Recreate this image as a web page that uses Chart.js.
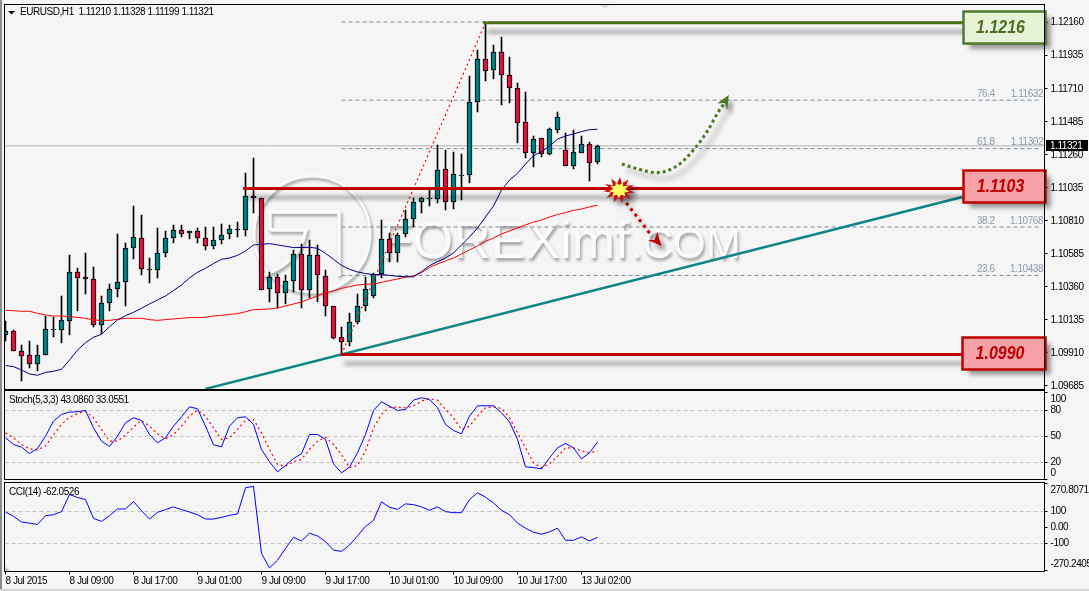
<!DOCTYPE html>
<html><head><meta charset="utf-8">
<style>
html,body{margin:0;padding:0;background:#f5f5f5;width:1089px;height:591px;overflow:hidden}
canvas{position:absolute;left:0;display:block}
#edgeL{position:absolute;left:0;top:0;width:2px;height:589px;background:#8c8c8c}
#edgeB{position:absolute;left:0;top:589px;width:1089px;height:2px;background:#d4d4d4}
</style>
<script src="https://cdn.jsdelivr.net/npm/chart.js@4/dist/chart.umd.js"></script>
</head><body>
<div id="edgeL"></div><div id="edgeB"></div>
<canvas id="main" width="1089" height="392" style="top:0"></canvas>
<canvas id="stoch" width="1089" height="92" style="top:390px"></canvas>
<canvas id="cciC" width="1089" height="109" style="top:482px"></canvas>
<script>
// ---------- data ----------
const open=[1.10030,1.10058,1.09921,1.09894,1.09833,1.09894,1.10064,1.10064,1.10130,1.10460,
1.10426,1.10412,1.10098,1.10248,1.10344,1.10391,1.10623,1.10691,1.10473,1.10473,
1.10589,1.10691,1.10746,1.10725,1.10739,1.10691,1.10637,1.10678,1.10718,1.10746,
1.10746,1.10977,1.10964,1.10344,1.10426,1.10316,1.10398,1.10582,1.10339,1.10575,
1.10432,1.10228,1.10017,1.09982,1.10119,1.10228,1.10296,1.10446,1.10687,1.10589,
1.10718,1.10820,1.10936,1.10957,1.10957,1.11161,1.10936,1.11116,1.11120,1.11620,
1.11911,1.11835,1.11958,1.11801,1.11713,1.11481,1.11270,1.11372,1.11263,1.11427,
1.11291,1.11182,1.11275,1.11332,1.11210];
const close=[1.10058,1.09921,1.09892,1.09833,1.09894,1.10071,1.10071,1.10132,1.10460,1.10419,
1.10412,1.10098,1.10248,1.10344,1.10391,1.10623,1.10698,1.10480,1.10480,1.10589,
1.10691,1.10746,1.10718,1.10739,1.10691,1.10637,1.10678,1.10712,1.10752,1.10752,
1.10977,1.10964,1.10339,1.10426,1.10316,1.10398,1.10582,1.10339,1.10575,1.10439,
1.10228,1.10014,1.09982,1.10119,1.10228,1.10344,1.10446,1.10684,1.10589,1.10712,
1.10820,1.10936,1.10964,1.10964,1.11154,1.10936,1.11127,1.11122,1.11620,1.11911,
1.11829,1.11958,1.11801,1.11713,1.11474,1.11270,1.11365,1.11263,1.11434,1.11515,
1.11182,1.11277,1.11332,1.11202,1.11321];
const high=[1.10128,1.10064,1.09962,1.09989,1.09962,1.10162,1.10157,1.10298,1.10575,1.10489,
1.10591,1.10493,1.10298,1.10378,1.10721,1.10657,1.10911,1.10850,1.10557,1.10759,
1.10739,1.10782,1.10782,1.10741,1.10759,1.10766,1.10771,1.10787,1.10780,1.10802,
1.11134,1.11236,1.10964,1.10460,1.10446,1.10439,1.10612,1.10653,1.10680,1.10643,
1.10473,1.10228,1.10089,1.10180,1.10312,1.10430,1.10453,1.10816,1.10725,1.10725,
1.10884,1.10964,1.10975,1.11020,1.11327,1.11293,1.11279,1.11265,1.11797,1.11974,
1.12160,1.12008,1.12063,1.11926,1.11747,1.11688,1.11386,1.11372,1.11440,1.11552,
1.11406,1.11427,1.11388,1.11345,1.11328];
const low=[1.09992,1.09921,1.09722,1.09810,1.09790,1.09894,1.10021,1.09980,1.10035,1.10198,
1.10314,1.10089,1.10042,1.10198,1.10289,1.10232,1.10553,1.10444,1.10389,1.10423,
1.10566,1.10662,1.10703,1.10684,1.10657,1.10614,1.10616,1.10653,1.10684,1.10700,
1.10709,1.10866,1.10339,1.10260,1.10214,1.10246,1.10323,1.10219,1.10287,1.10260,
1.10164,1.10008,1.09908,1.09960,1.10105,1.10198,1.10283,1.10419,1.10532,1.10532,
1.10698,1.10766,1.10861,1.10911,1.10934,1.10884,1.10891,1.10952,1.11070,1.11552,
1.11765,1.11779,1.11599,1.11615,1.11343,1.11241,1.11179,1.11247,1.11256,1.11411,
1.11182,1.11166,1.11270,1.11082,1.11199];
const maBlue=[1.09824,1.09817,1.09794,1.09767,1.09758,1.09778,1.09785,1.09799,1.09862,1.09930,
1.09980,1.10017,1.10037,1.10089,1.10135,1.10164,1.10187,1.10214,1.10244,1.10271,
1.10298,1.10335,1.10373,1.10421,1.10460,1.10487,1.10519,1.10548,1.10557,1.10575,
1.10605,1.10646,1.10650,1.10655,1.10646,1.10637,1.10628,1.10628,1.10630,1.10623,
1.10589,1.10548,1.10507,1.10480,1.10462,1.10451,1.10444,1.10444,1.10439,1.10432,
1.10430,1.10428,1.10464,1.10505,1.10532,1.10557,1.10591,1.10646,1.10700,1.10762,
1.10836,1.10911,1.11020,1.11088,1.11134,1.11197,1.11254,1.11281,1.11320,1.11366,
1.11388,1.11402,1.11418,1.11431,1.11434];
const maRed=[1.10201,1.10198,1.10194,1.10194,1.10180,1.10169,1.10162,1.10162,1.10157,1.10153,
1.10146,1.10135,1.10132,1.10132,1.10139,1.10146,1.10146,1.10146,1.10137,1.10132,
1.10137,1.10142,1.10146,1.10151,1.10151,1.10153,1.10162,1.10166,1.10173,1.10178,
1.10191,1.10205,1.10207,1.10210,1.10216,1.10230,1.10244,1.10257,1.10278,1.10298,
1.10321,1.10332,1.10350,1.10362,1.10373,1.10378,1.10380,1.10391,1.10403,1.10414,
1.10426,1.10435,1.10457,1.10493,1.10516,1.10537,1.10557,1.10584,1.10612,1.10639,
1.10670,1.10693,1.10721,1.10741,1.10762,1.10782,1.10802,1.10816,1.10836,1.10853,
1.10867,1.10881,1.10891,1.10905,1.10916];
const stochMain=[48.1,40.4,37.3,30,35.8,50,67.3,75,77.7,78.1,79.6,59.6,44.2,38.1,50,65.4,71.2,68.1,51.9,42.3,48.1,61.5,72.3,83.8,81.5,61.5,40,37.7,61.5,71.2,72.3,63.5,34.6,20.4,8.8,16.2,24.2,29.6,51.9,51.9,46.2,
18.1,7.7,14.2,30.8,51.9,79.6,89.6,84.6,79.6,80.8,91.5,94.2,92.3,82.7,63.5,56.5,52.7,73.1,85,85,85,76.9,66.5,46.2,14.6,13.8,12.3,25,36.5,41.5,36.5,23.8,30.8,43.09];
const stochSignal=[53.8,48.1,40.4,35.4,34.2,38.5,51.9,63.5,71.9,75.8,78.8,71.2,57.7,44.2,44.2,51.2,60.4,68.1,61.5,52.7,46.9,51.9,61.5,73.1,79.6,73.1,59.6,46.2,48.1,57.7,68.1,69.2,53.8,34.6,17.3,15.4,20.4,23.1,34.6,44.2,48.8,
40.4,28.8,13.5,16.2,32.7,59.6,75,83.5,83.5,82.7,84.6,90.4,93.1,91.5,80.8,71.2,57.7,61.5,73.1,82.7,83.8,81.9,71.2,53.8,36.5,19.2,13.5,18.1,26.9,36.5,36.5,32.7,30.8,33.06];
const cci=[95.8,68.4,32.6,26.3,17.9,72.6,78.9,97.9,205.3,186.3,173.7,55.8,36.8,72.6,114.7,114.7,161,104.2,51.6,93.7,110.5,127.4,110.5,95.8,78.9,51.6,51.6,62.1,74.7,83.2,247.4,255.8,-163.1,-253.7,-205.2,-131.6,-62.1,-85.3,-36.8,-53.7,-89.5,
-142.1,-150.5,-110.5,-53.7,5.3,43.2,158.9,125.2,112.6,146.3,142.1,127.4,106.3,127.4,97.9,91.6,91.6,173.7,215.8,188.4,152.6,106.3,78.9,26.3,-5.3,-30.5,-43.2,-28.4,-5.3,-81,-81,-60,-85.3,-62.05];

const priceTicks=[1.12160,1.11935,1.11710,1.11485,1.11260,1.11035,1.10810,1.10585,1.10360,1.10135,1.09910,1.09685];
const stochTicks=[100,80,50,20,0];
const cciTicks=[270.8071,100,0,-100,-270.2405];
const xTickBars=[0,8,16,24,32,40,48,56,64,72];
const xLabels=['8 Jul 2015','8 Jul 09:00','8 Jul 17:00','9 Jul 01:00','9 Jul 09:00','9 Jul 17:00','10 Jul 01:00','10 Jul 09:00','10 Jul 17:00','13 Jul 02:00'];

const fibPct=['100','76.4','61.8','38.2','23.6','0'];
const fibPrice=[1.12165,1.11632,1.11302,1.10768,1.10438,1.09905];
const lastPrice=1.11321;
const levelPrices=[1.1216,1.1103,1.0990];
const levelStartBar=[59.7,29.7,41.9];
const levelEndBar=119.7;
const levelLabels=['1.1216','1.1103','1.0990'];
const trendBars=[25,119.6], trendPrices=[1.09665,1.10973];
const fibTrendBars=[42,60], fibTrendPrices=[1.0990,1.1216];
const upArrowBars=[77.05,79.3,81.4,84.1,86.2,87.7,89.1,90];
const upArrowPrices=[1.11197,1.11160,1.11138,1.11191,1.11306,1.11418,1.11552,1.11622];
const downArrowBars=[77.6,80.8], downArrowPrices=[1.10932,1.10707];
const titleText='EURUSD,H1  1.11210 1.11328 1.11199 1.11321';
const stochTitle='Stoch(5,3,3) 43.0860 33.0551';
const cciTitle='CCI(14) -62.0526';
const watermarkA='FOREXimf', watermarkB='.COM';

// ---------- styling / layout ----------
const TXT='"Liberation Sans",Arial,sans-serif';
const FS=10;
const SPACING='-0.45px';
const xRange={min:-0.125,max:129.875};
const bars=open.map((_,i)=>i);
const zip=(xs,ys)=>xs.map((x,i)=>({x,y:ys[i]}));
const series=ys=>ys.map((y,i)=>({x:i,y}));
const line=(data,color,width,order,extra)=>Object.assign({type:'line',data,borderColor:color,borderWidth:width,pointRadius:0,tension:0,order,fill:false},extra||{});

const hiddenX={type:'linear',display:false,min:xRange.min,max:xRange.max,offset:false,grid:{display:false}};
function yAxis(min,max,ticks,cb,levels){
  return {type:'linear',position:'right',min,max,
    afterBuildTicks:s=>{s.ticks=ticks.map(value=>({value}));},
    afterFit:s=>{s.width=44.5;s.paddingTop=0;s.paddingBottom=0;},
    border:{display:false,dash:levels?[4,3]:[]},
    grid:{drawOnChartArea:!!levels,tickLength:3,tickColor:'#000',
      color:c=>levels&&c.tick&&levels.includes(c.tick.value)?'#c4c4c4':'transparent'},
    ticks:{autoSkip:false,color:'#000',padding:3,crossAlign:'near',font:{family:TXT,size:FS},callback:cb}};
}
const tight={id:'tight',beforeDraw(ch){ch.ctx.letterSpacing=SPACING;}};
const frame={id:'frame',afterDraw(ch){
  const a=ch.chartArea,c=ch.ctx;c.save();c.strokeStyle='#000';c.lineWidth=1;
  c.strokeRect(a.left,a.top,a.right-a.left,a.bottom-a.top);c.restore();}};
const panelTitle=t=>({id:'ptitle',afterDraw(ch){const c=ch.ctx;c.save();c.fillStyle='#000';c.font=FS+'px '+TXT;c.textBaseline='middle';c.fillText(t,9,ch.chartArea.top+10);c.restore();}});

const shadowCrisp={id:'shadowCrisp',
  beforeDatasetDraw(ch,args){
    const ds=ch.data.datasets[args.index];
    if(ds.type==='bar'||!ds.type){ args.meta.data.forEach(e=>{e.y=Math.round(e.y);e.base=Math.round(e.base);if(e.y===e.base)e.base=e.y+1;}); }
    if(ds.shadow){const c=ch.ctx;c.save();c.shadowColor='rgba(0,0,0,.42)';c.shadowOffsetX=ds.shadow[0];c.shadowOffsetY=ds.shadow[1];c.shadowBlur=ds.shadow[2];}
  },
  afterDatasetDraw(ch,args){ if(ch.data.datasets[args.index].shadow) ch.ctx.restore(); }
};

const watermarkPlugin={id:'wm',beforeDatasetsDraw(ch){
  const c=ch.ctx;c.save();c.letterSpacing='0px';
  c.shadowColor='rgba(0,0,0,.34)';c.shadowOffsetX=1.5;c.shadowOffsetY=2.5;c.shadowBlur=3;
  c.strokeStyle='#fbfbfb';c.lineWidth=3;
  c.beginPath();c.arc(312,234,58,0,Math.PI*2);c.stroke();
  c.lineWidth=3.5;c.beginPath();c.moveTo(270,230);c.lineTo(270,212);c.lineTo(339,212);c.lineTo(339,276);c.stroke();
  c.beginPath();c.moveTo(270,230);c.lineTo(306,230);c.quadraticCurveTo(300,262,262,276);c.stroke();
  c.fillStyle='#fbfbfb';c.textBaseline='alphabetic';
  c.font='52px '+TXT;c.fillText(watermarkA,381,258);
  c.font='42px '+TXT;c.fillText(watermarkB,631,258);
  c.restore();
}};

const annotations={id:'annot',afterDatasetsDraw(ch){
  const c=ch.ctx,X=ch.scales.x,Y=ch.scales.y,a=ch.chartArea;
  // fib labels
  c.save();c.font=FS+'px '+TXT;c.fillStyle='#8a9bb3';c.textBaseline='bottom';
  fibPct.forEach((p,i)=>{if(p==='100'||p==='0')return;const y=Y.getPixelForValue(fibPrice[i])-1;
    c.textAlign='left';c.fillText(p,977,y);c.textAlign='right';c.fillText(fibPrice[i].toFixed(5),1043,y);});
  c.restore();
  // arrow heads
  function head(col,tx,ty,pts){c.save();c.shadowColor='rgba(0,0,0,.4)';c.shadowOffsetX=4;c.shadowOffsetY=5;c.shadowBlur=4;c.fillStyle=col;c.beginPath();c.moveTo(tx,ty);pts.forEach(p=>c.lineTo(tx+p[0],ty+p[1]));c.closePath();c.fill();c.restore();}
  const ub=upArrowBars.length-1;
  let tx=X.getPixelForValue(upArrowBars[ub])+3.3,ty=Y.getPixelForValue(upArrowPrices[ub])-6.7;
  head('#4c7a22',tx,ty,[[-11.5,8.5],[-4,8],[-1.5,15]]);
  tx=X.getPixelForValue(downArrowBars[1])+9.5;ty=Y.getPixelForValue(downArrowPrices[1])+10;
  head('#c00000',tx,ty,[[-13.5,-6],[-7,-6],[-4,-14]]);
  // explosion star
  const sx=X.getPixelForValue(76.7),sy=Y.getPixelForValue(1.1102);
  function star(rx,ry,irx,iry,n,col,shadow){c.save();if(shadow){c.shadowColor='rgba(0,0,0,.45)';c.shadowOffsetX=5;c.shadowOffsetY=5;c.shadowBlur=4;}
    c.fillStyle=col;c.beginPath();for(let i=0;i<n*2;i++){const t=i*Math.PI/n+.2,o=i%2===0;c.lineTo(sx+Math.cos(t)*(o?rx:irx),sy+Math.sin(t)*(o?ry:iry));}c.closePath();c.fill();c.restore();}
  star(16,13,8.5,7,11,'#c80a0a',true);
  star(10.5,8,6,5,9,'#ffff66',false);
  // level boxes
  const boxes=[{t:11.5,b:43.5,l:963.5,r:1045.5,fill:'#e5f3d6',st:'#4f7a2d',tx:'#4b6e23'},
               {t:170.5,b:202.5,l:963.5,r:1045.5,fill:'#f4a2a7',st:'#c00000',tx:'#c00000'},
               {t:337.5,b:369.5,l:962.5,r:1045.5,fill:'#f4a2a7',st:'#c00000',tx:'#c00000'}];
  boxes.forEach((b,i)=>{
    c.save();c.shadowColor='rgba(0,0,0,.42)';c.shadowOffsetX=5;c.shadowOffsetY=5;c.shadowBlur=5;
    c.fillStyle=b.fill;c.fillRect(b.l,b.t,b.r-b.l,b.b-b.t);c.restore();
    c.save();c.strokeStyle=b.st;c.lineWidth=2.5;c.strokeRect(b.l,b.t,b.r-b.l,b.b-b.t);
    c.letterSpacing='0px';
    c.translate((b.l+b.r)/2-4,(b.t+b.b)/2+.5);c.scale(.84,1);
    c.font='italic bold 19px '+TXT;c.textAlign='center';c.textBaseline='middle';c.fillStyle=b.tx;c.fillText(levelLabels[i],0,0);c.restore();
  });
  // current price tag
  c.save();c.fillStyle='#000';const py=Y.getPixelForValue(lastPrice);c.fillRect(1046,Math.round(py)-6,42,11);
  c.fillStyle='#fff';c.font=FS+'px '+TXT;c.textBaseline='middle';c.fillText(lastPrice.toFixed(5),1050,Math.round(py));c.restore();
  // header
  c.save();c.fillStyle='#000';c.beginPath();c.moveTo(8,11);c.lineTo(15,11);c.lineTo(11.5,14.5);c.closePath();c.fill();
  c.font=FS+'px '+TXT;c.textBaseline='middle';c.fillText(titleText,20,12.5);
  c.fillStyle='#dcdcdc';c.beginPath();c.moveTo(600,5);c.lineTo(610,5);c.lineTo(605,9);c.closePath();c.fill();
  c.restore();
}};

Chart.defaults.animation=false;
const base={responsive:false,animation:false,devicePixelRatio:1,events:[]};
const quiet={legend:{display:false},tooltip:{enabled:false}};

// ---------- price panel ----------
const fibSets=fibPrice.map(p=>line(zip([42,129.4],[p,p]),'#7b8ba3',1,60,{borderDash:[4,3]}));
new Chart(document.getElementById('main'),{
  type:'bar',
  data:{datasets:[
    ...levelPrices.map((p,i)=>line(zip([levelStartBar[i],levelEndBar],[p,p]),i===0?'#4b7016':'#c00000',3,2,{shadow:[4,9,4]})),
    line(zip(downArrowBars,downArrowPrices),'#c00000',3,3,{borderDash:[3,4],shadow:[4,5,4]}),
    line(zip(upArrowBars,upArrowPrices),'#4c7a22',3,3,{borderDash:[3,3],cubicInterpolationMode:'monotone',shadow:[6,6,5]}),
    line(zip(trendBars,trendPrices),'#0f8585',2.5,4),
    line(zip(fibTrendBars,fibTrendPrices),'#ff0000',1.2,5,{borderDash:[2,3]}),
    line(series(maBlue),'#000080',1,6),
    line(series(maRed),'#ff0000',1,7),
    {type:'bar',order:10,grouped:false,barThickness:5,borderWidth:1,borderColor:'#000',borderSkipped:false,
     backgroundColor:bars.map(i=>close[i]>=open[i]?'#007f7f':'#dc143c'),
     data:bars.map(i=>({x:i,y:[open[i],close[i]]}))},
    {type:'bar',order:11,grouped:false,barThickness:1,backgroundColor:'#000',borderWidth:0,
     data:bars.map(i=>({x:i,y:[low[i],high[i]]}))},
    line(zip([-0.125,129.875],[lastPrice,lastPrice]),'#b4b4b4',1,50),
    ...fibSets
  ]},
  options:Object.assign({},base,{
    layout:{padding:{left:4.5,top:4.5,bottom:2.5,right:0}},
    plugins:quiet,
    scales:{x:hiddenX,y:yAxis(1.09661,1.12284,priceTicks,v=>v.toFixed(5))}
  }),
  plugins:[tight,shadowCrisp,watermarkPlugin,annotations,frame]
});

// ---------- stochastic panel ----------
new Chart(document.getElementById('stoch'),{
  type:'line',
  data:{datasets:[
    line(series(stochMain),'#0000ff',1,1),
    line(series(stochSignal),'#ff0000',1.2,2,{borderDash:[2,3]})
  ]},
  options:Object.assign({},base,{
    layout:{padding:{left:4.5,top:.5,bottom:2.5,right:0}},
    plugins:quiet,
    scales:{x:hiddenX,y:yAxis(0,102.6,stochTicks,v=>v===100?['',String(v)]:v===0?[String(v),'']:String(v),[80,50,20])}
  }),
  plugins:[tight,panelTitle(stochTitle),frame]
});

// ---------- CCI panel ----------
const corner={id:'corner',afterDraw(ch){const a=ch.chartArea,c=ch.ctx;c.save();c.fillStyle='#c8c8c8';c.beginPath();c.moveTo(a.left+.5,a.bottom-5);c.lineTo(a.left+6,a.bottom);c.lineTo(a.left+.5,a.bottom);c.closePath();c.fill();c.restore();}};
new Chart(document.getElementById('cciC'),{
  type:'line',
  data:{datasets:[line(series(cci),'#0000ff',1,1)]},
  options:Object.assign({},base,{
    layout:{padding:{left:4.5,top:.5,bottom:0,right:0}},
    plugins:quiet,
    scales:{
      x:{type:'linear',min:xRange.min,max:xRange.max,offset:false,
        afterBuildTicks:s=>{s.ticks=xTickBars.map(value=>({value}));},
        afterFit:s=>{s.height=19.5;s.paddingLeft=0;s.paddingRight=0;},
        border:{display:false},
        grid:{drawOnChartArea:false,tickLength:3,tickColor:'#000',color:'#000'},
        ticks:{autoSkip:false,maxRotation:0,minRotation:0,align:'start',padding:1,color:'#000',font:{family:TXT,size:FS},
          callback:(v,i)=>xLabels[i]}},
      y:yAxis(-276,280,cciTicks,v=>{
        if(v>200)return ['',String(v.toFixed(4))];
        if(v<-200)return [String(v.toFixed(4)),''];
        return v===0?'0.00':String(v);},[100,-100])
    }
  }),
  plugins:[tight,panelTitle(cciTitle),corner,frame]
});
</script>
</body></html>
